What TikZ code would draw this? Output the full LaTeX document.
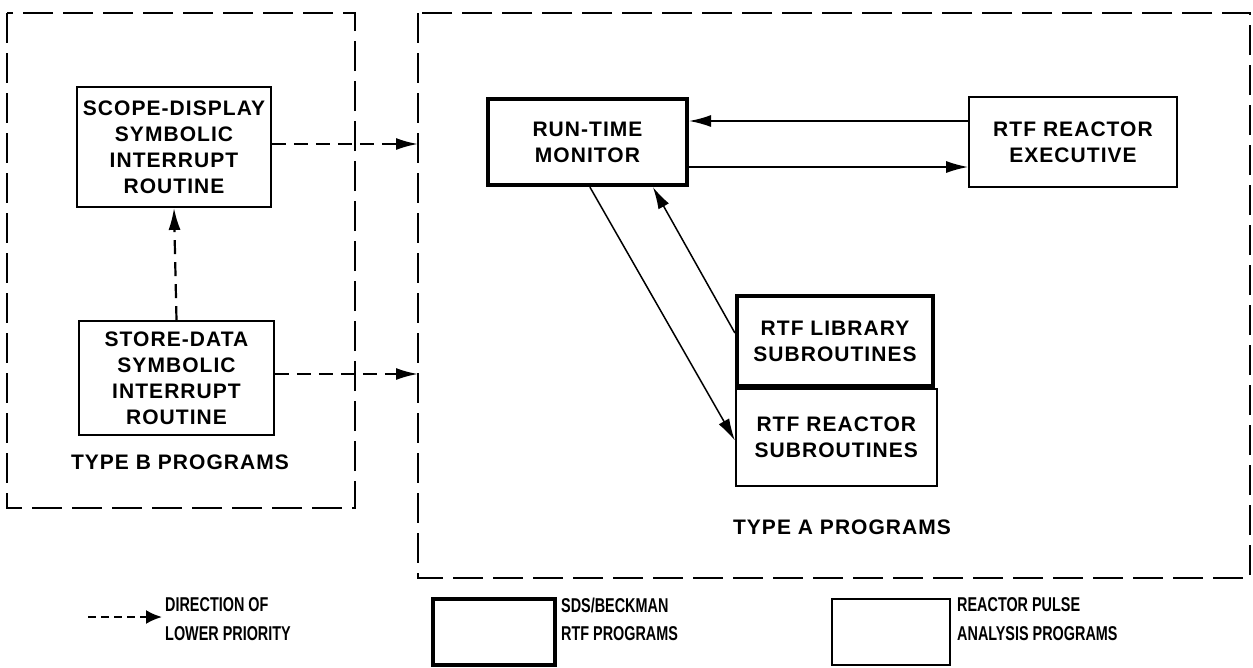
\documentclass[tikz,border=0pt]{standalone}
\usepackage{fontspec}
\usetikzlibrary{arrows.meta,calc}
\newfontfamily\lblfont{Liberation Sans}[LetterSpace=5]
\newfontfamily\legfont{Liberation Sans}[FakeStretch=0.72]
\tikzset{
  box/.style={draw, line width=1.8pt, align=center, inner sep=0pt,
    font=\lblfont\bfseries\fontsize{21}{26}\selectfont},
  thickbox/.style={box, line width=4.2pt},
  group/.style={draw, line width=1.3pt, dash pattern=on 30pt off 10pt},
  grouplabel/.style={font=\lblfont\bfseries\fontsize{21}{26}\selectfont, inner sep=0pt},
  arrowtip/.style={-{Latex[length=22pt,width=12pt]}},
  dasharrow/.style={arrowtip, line width=2.2pt, dash pattern=on 14pt off 8pt},
  solidarrow/.style={arrowtip, line width=1.5pt},
  legtext/.style={font=\legfont\bfseries\fontsize{20}{28}\selectfont, align=left, anchor=west, inner sep=0pt}
}
\begin{document}
\begin{tikzpicture}[x=1pt,y=-1pt]
\useasboundingbox (0,0) rectangle (1253,667);
% groups
\draw[group] (7,13) rectangle (355,508);
\draw[group] (418,13) rectangle (1250,578);
\node[grouplabel] (tb) at (180,462) {TYPE B PROGRAMS};
\node[grouplabel] (ta) at (842,527) {TYPE A PROGRAMS};
% type B
\node[box, minimum width=194pt, minimum height=120pt] (scope) at (174,147)
  {SCOPE-DISPLAY\\SYMBOLIC\\INTERRUPT\\ROUTINE};
\node[box, minimum width=195pt, minimum height=114pt] (store) at (176.5,378)
  {STORE-DATA\\SYMBOLIC\\INTERRUPT\\ROUTINE};
\coordinate (inA1) at (418,144);
\coordinate (inA2) at (418,374);
\draw[dasharrow] (scope.east |- inA1) -- (inA1);
\draw[dasharrow] (store.east |- inA2) -- (inA2);
\draw[dasharrow] (store.north) -- (scope.south);
% type A
\node[thickbox, minimum width=199pt, minimum height=86pt] (mon) at (587.5,142)
  {RUN-TIME\\MONITOR};
\node[box, minimum width=208pt, minimum height=90pt] (exec) at (1073,142)
  {RTF REACTOR\\EXECUTIVE};
\node[thickbox, minimum width=196pt, minimum height=90pt] (lib) at (835,341)
  {RTF LIBRARY\\SUBROUTINES};
\node[box, minimum width=201pt, minimum height=97pt, anchor=north west] (rsub) at (lib.south west)
  {RTF REACTOR\\SUBROUTINES};
\draw[solidarrow] ($(exec.west)+(0,-21)$) -- ($(mon.east)+(0,-21)$);
\draw[solidarrow] ($(mon.east)+(0,25)$) -- ($(exec.west)+(0,25)$);
\draw[solidarrow] ($(mon.south west)+(104,0)$) -- ($(rsub.west)+(0,3)$);
\draw[solidarrow] ($(lib.west)+(0,-8)$) -- ($(mon.south west)+(167,0)$);
% legend
\coordinate (la) at (88,617);
\coordinate (lb) at (162,617);
\draw[-{Latex[length=16pt,width=14pt]}, line width=2.2pt, dash pattern=on 8pt off 5pt] (la) -- (lb);
\node[legtext] (l1) at (165,605) {DIRECTION OF};
\node[legtext] (l2) at (165,634) {LOWER PRIORITY};
\node[draw, line width=4pt, minimum width=122pt, minimum height=66pt, inner sep=0pt] (k1) at (494,632) {};
\node[legtext] (l3) at (561,605) {SDS/BECKMAN};
\node[legtext] (l4) at (561,634) {RTF PROGRAMS};
\node[draw, line width=1.8pt, minimum width=118pt, minimum height=66pt, inner sep=0pt] (k2) at (891,632) {};
\node[legtext] (l5) at (957,605) {REACTOR PULSE};
\node[legtext] (l6) at (957,634) {ANALYSIS PROGRAMS};
\end{tikzpicture}
\end{document}
